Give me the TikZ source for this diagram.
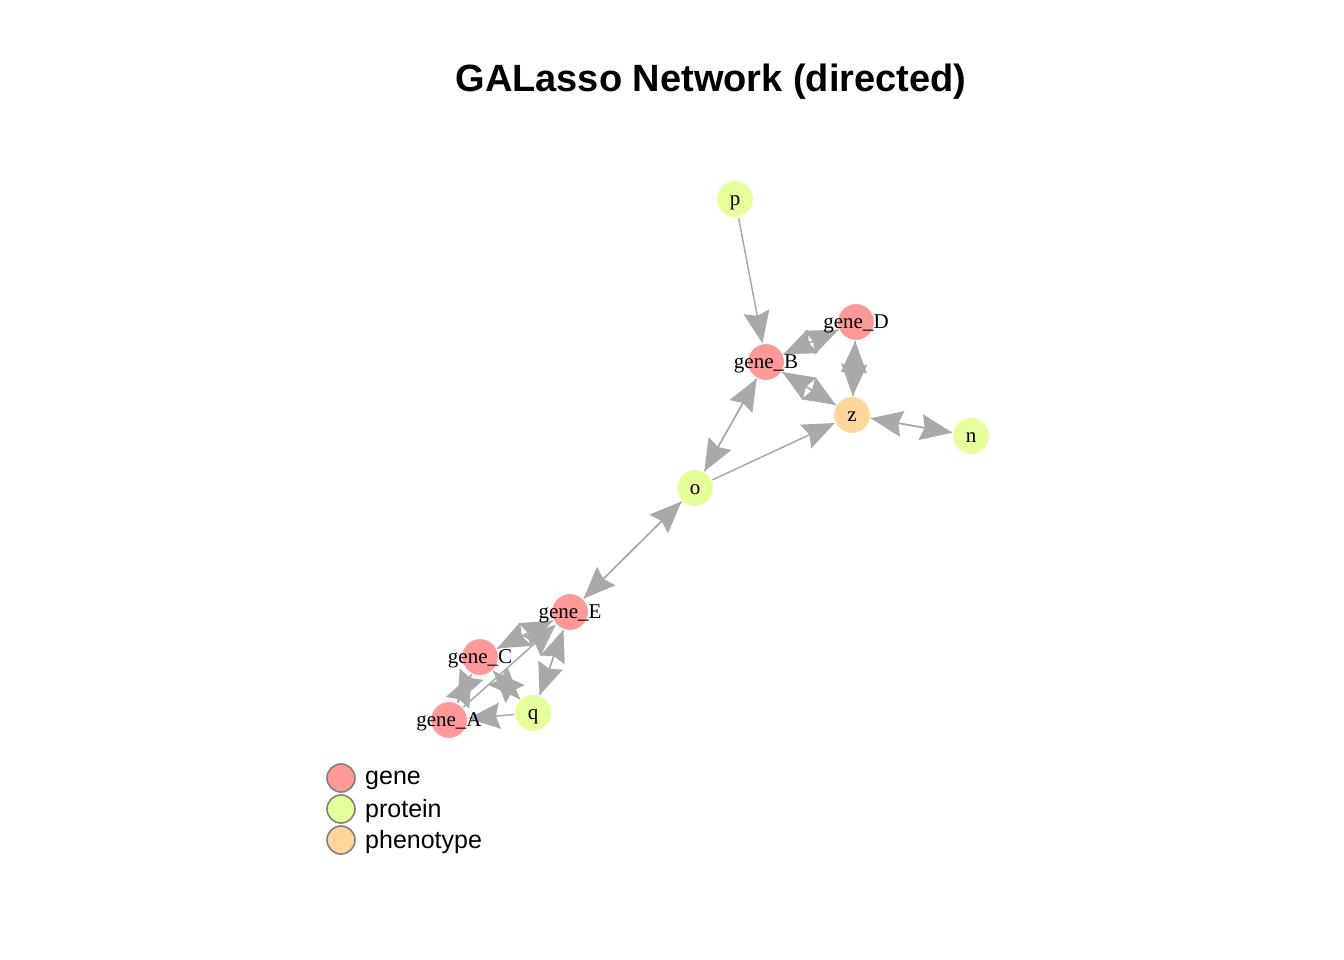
\documentclass[tikz,border=0pt]{standalone}
\usepackage{fontspec}
\setmainfont{Liberation Serif}
\newfontfamily\legendfont{Liberation Sans}
\usetikzlibrary{arrows.meta,backgrounds}

\definecolor{genecol}{HTML}{FF9999}
\definecolor{protcol}{HTML}{E6FF99}
\definecolor{phencol}{HTML}{FFD699}
\definecolor{edgecol}{HTML}{A9A9A9}

\begin{document}
\begin{tikzpicture}[x=1pt, y=-1pt,
    vert/.style={circle, minimum size=37pt, inner sep=0pt, draw=white, line width=1pt,
                 text height=13pt, text depth=0pt, font=\fontsize{21}{21}\selectfont},
    edge/.style={draw=edgecol, line width=1.5pt,
                 -{Stealth[length=32pt, width=26pt, inset=4pt, fill=edgecol]}},
    keydot/.style={circle, minimum size=28pt, inner sep=0pt, draw=gray, line width=1.6pt},
    keytext/.style={anchor=west, inner sep=0pt, font=\legendfont\fontsize{25}{25}\selectfont}]
                % Canvas
                \useasboundingbox (0,0) rectangle (1344,960);

                % Title
                \node[font=\legendfont\bfseries\fontsize{38}{38}\selectfont] (title) at (711,82) {GALasso Network (directed)};

                % Vertices (labels kept from widening the circles)
                \node[vert, fill=protcol] (p) at (735,199) {\makebox[0pt]{p}};
                \node[vert, fill=genecol] (geneB) at (766,362) {\makebox[0pt]{gene\_B}};
                \node[vert, fill=genecol] (geneD) at (856,322) {\makebox[0pt]{gene\_D}};
                \node[vert, fill=phencol] (z) at (852,415) {\makebox[0pt]{z}};
                \node[vert, fill=protcol] (n) at (971,436) {\makebox[0pt]{n}};
                \node[vert, fill=protcol] (o) at (695,488) {\makebox[0pt]{o}};
                \node[vert, fill=genecol] (geneE) at (570,612) {\makebox[0pt]{gene\_E}};
                \node[vert, fill=genecol] (geneC) at (480,657) {\makebox[0pt]{gene\_C}};
                \node[vert, fill=genecol] (geneA) at (449,720) {\makebox[0pt]{gene\_A}};
                \node[vert, fill=protcol] (q) at (533,713) {\makebox[0pt]{q}};

                % Edges (mutual ones drawn both ways), kept under the vertices
                \begin{scope}[on background layer]
                \draw[edge] (p) -- (geneB);
                \draw[edge] (geneB) -- (geneD);
                \draw[edge] (geneD) -- (geneB);
                \draw[edge] (geneD) -- (z);
                \draw[edge] (z) -- (geneD);
                \draw[edge] (geneB) -- (z);
                \draw[edge] (z) -- (geneB);
                \draw[edge] (geneB) -- (o);
                \draw[edge] (o) -- (geneB);
                \draw[edge] (o) -- (z);
                \draw[edge] (z) -- (n);
                \draw[edge] (n) -- (z);
                \draw[edge] (o) -- (geneE);
                \draw[edge] (geneE) -- (o);
                \draw[edge] (geneE) -- (geneC);
                \draw[edge] (geneC) -- (geneE);
                \draw[edge] (geneE) -- (q);
                \draw[edge] (q) -- (geneE);
                \draw[edge] (geneA) -- (geneE);
                \draw[edge] (geneA) -- (geneC);
                \draw[edge] (geneC) -- (geneA);
                \draw[edge] (geneC) -- (q);
                \draw[edge] (q) -- (geneC);
                \draw[edge] (q) -- (geneA);
                \end{scope}

                % Legend
                \node[keydot, fill=genecol] (kgene) at (341,778) {};
                \node[keydot, fill=protcol] (kprot) at (341,809) {};
                \node[keydot, fill=phencol] (kphen) at (341,840) {};
                \node[keytext] (tgene) at (365,780) {gene};
                \node[keytext] (tprot) at (365,811) {protein};
                \node[keytext] (tphen) at (365,842) {phenotype};
\end{tikzpicture}
\end{document}
